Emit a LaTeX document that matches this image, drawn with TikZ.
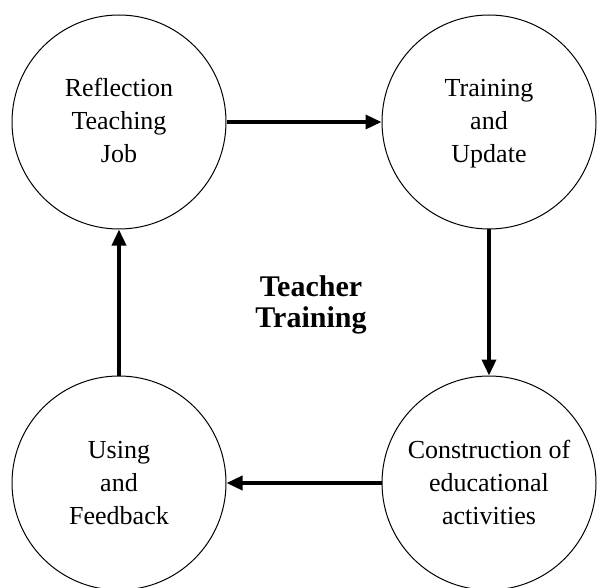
\documentclass[tikz,border=0pt]{standalone}
\usepackage{fontspec}
\setmainfont{Liberation Serif}
\usetikzlibrary{arrows.meta}

\begin{document}
\begin{tikzpicture}[x=1pt,y=-1pt,
  stage/.style={circle, draw, line width=1pt, minimum size=214pt, inner sep=0pt,
    align=center, font=\fontsize{26}{33}\selectfont, text height=89pt, text depth=7pt},
  flow/.style={line width=3.5pt, -{Triangle[length=16pt,width=14pt]}}]
\useasboundingbox (0,0) rectangle (597,588);
\node[stage] (refl) at (119,122) {Reflection\\Teaching\\Job};
\node[stage] (train) at (489,122) {Training\\and\\Update};
\node[stage] (constr) at (489,483) {Construction of\\educational\\activities};
\node[stage] (using) at (119,483) {Using\\and\\Feedback};
\node[align=center, font=\fontsize{30}{31}\selectfont\bfseries] (title) at (311,305) {Teacher\\Training};
\draw[flow] (refl) -- (train);
\draw[flow] (train) -- (constr);
\draw[flow] (constr) -- (using);
\draw[flow] (using) -- (refl);
\end{tikzpicture}
\end{document}
